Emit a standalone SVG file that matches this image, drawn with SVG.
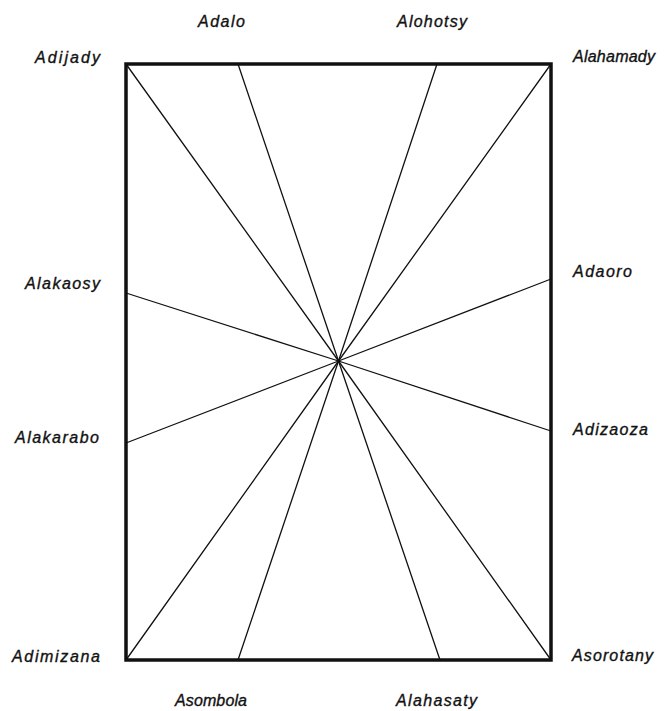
<svg xmlns="http://www.w3.org/2000/svg" width="665" height="711" viewBox="0 0 665 711">
<style>
.lbl{font-family:"Liberation Sans",Arial,sans-serif;font-style:italic;font-size:16px;fill:#111;stroke:#111;stroke-width:0.35;}
.ray{stroke:#111;stroke-width:1.3;fill:none;stroke-linecap:round;}
.frame{stroke:#111;stroke-width:3.5;fill:none;}
</style>
<rect width="665" height="711" fill="#fff"/>
<g id="frame"><rect class="frame" x="126" y="64" width="425" height="596"/></g>
<g id="connectors">
<line class="ray" x1="338.5" y1="361" x2="126" y2="64"/>
<line class="ray" x1="338.5" y1="361" x2="238" y2="64"/>
<line class="ray" x1="338.5" y1="361" x2="437" y2="64"/>
<line class="ray" x1="338.5" y1="361" x2="551" y2="64"/>
<line class="ray" x1="338.5" y1="361" x2="551" y2="279"/>
<line class="ray" x1="338.5" y1="361" x2="551" y2="431"/>
<line class="ray" x1="338.5" y1="361" x2="551" y2="660"/>
<line class="ray" x1="338.5" y1="361" x2="440" y2="660"/>
<line class="ray" x1="338.5" y1="361" x2="238" y2="660"/>
<line class="ray" x1="338.5" y1="361" x2="126" y2="660"/>
<line class="ray" x1="338.5" y1="361" x2="126" y2="443"/>
<line class="ray" x1="338.5" y1="361" x2="126" y2="293"/>
</g>
<g id="adalo"><text class="lbl" x="198" y="27" textLength="47" lengthAdjust="spacing">Adalo</text></g>
<g id="alohotsy"><text class="lbl" x="397" y="27" textLength="70" lengthAdjust="spacing">Alohotsy</text></g>
<g id="adijady"><text class="lbl" x="35" y="63" textLength="65" lengthAdjust="spacing">Adijady</text></g>
<g id="alahamady"><text class="lbl" x="573" y="62" textLength="82" lengthAdjust="spacing">Alahamady</text></g>
<g id="alakaosy"><text class="lbl" x="25" y="289" textLength="75" lengthAdjust="spacing">Alakaosy</text></g>
<g id="adaoro"><text class="lbl" x="573" y="277" textLength="59" lengthAdjust="spacing">Adaoro</text></g>
<g id="alakarabo"><text class="lbl" x="15" y="443" textLength="84" lengthAdjust="spacing">Alakarabo</text></g>
<g id="adizaoza"><text class="lbl" x="573" y="435" textLength="75" lengthAdjust="spacing">Adizaoza</text></g>
<g id="adimizana"><text class="lbl" x="12" y="662" textLength="88" lengthAdjust="spacing">Adimizana</text></g>
<g id="asorotany"><text class="lbl" x="572" y="661" textLength="81" lengthAdjust="spacing">Asorotany</text></g>
<g id="asombola"><text class="lbl" x="175" y="706" textLength="72" lengthAdjust="spacing">Asombola</text></g>
<g id="alahasaty"><text class="lbl" x="396" y="706" textLength="81" lengthAdjust="spacing">Alahasaty</text></g>
</svg>
